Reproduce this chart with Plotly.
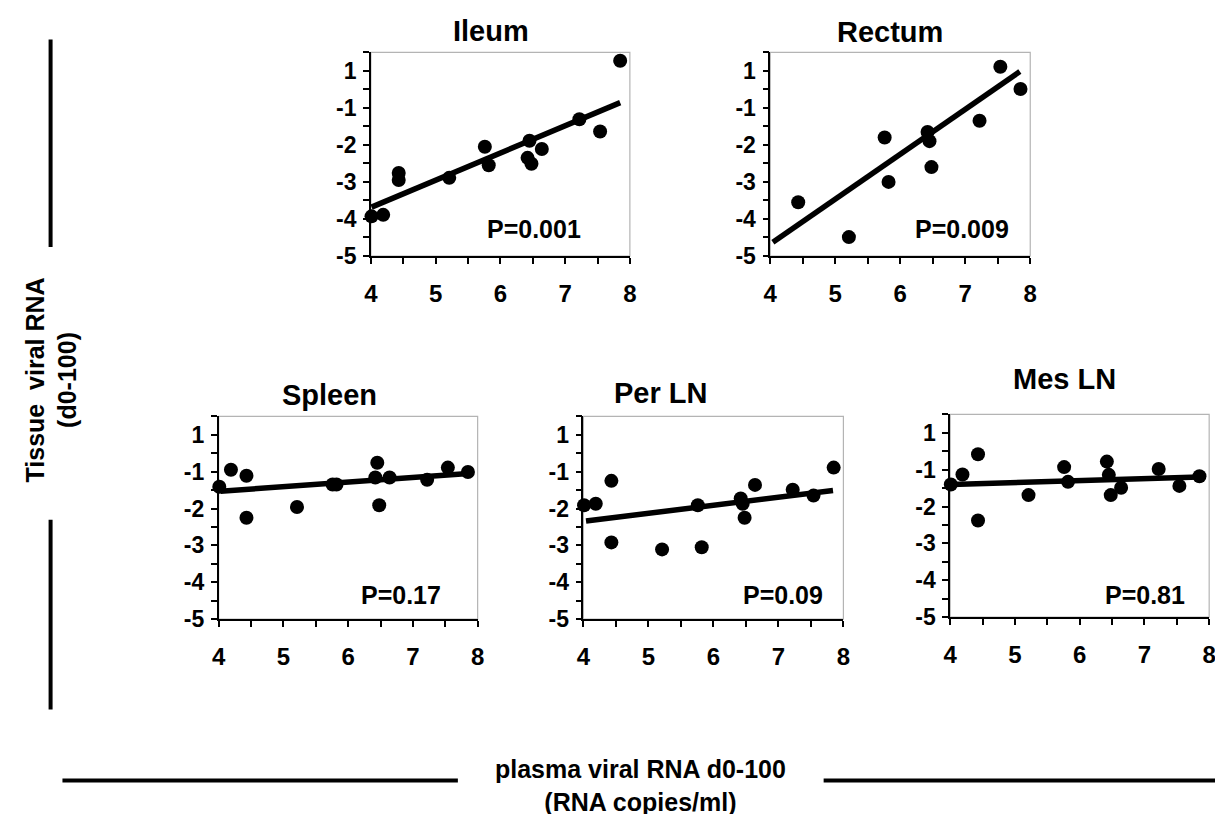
import plotly.graph_objects as go

W, H = 1223, 814

# ---------------- data ----------------
plasma = [4.01, 4.19, 4.43, 4.43, 5.21, 5.76, 5.82, 6.42, 6.45, 6.48, 6.64, 7.22, 7.54, 7.85]
ileum = [-3.93, -3.89, -2.76, -2.95, -2.89, -2.05, -2.55, -2.35, -1.89, -2.51, -2.11, -1.31, -1.64, 0.27]
rectum_x = [4.43, 5.21, 5.76, 5.82, 6.42, 6.45, 6.48, 7.22, 7.54, 7.85]
rectum = [-3.55, -4.49, -1.80, -3.00, -1.65, -1.90, -2.60, -1.35, 0.11, -0.49]
spleen = [-1.41, -0.95, -1.11, -2.25, -1.96, -1.35, -1.35, -1.16, -0.76, -1.91, -1.16, -1.22, -0.89, -1.01]
per_ln = [-1.91, -1.87, -1.25, -2.92, -3.11, -1.91, -3.05, -1.73, -1.87, -2.25, -1.36, -1.49, -1.65, -0.89]
mes_ln = [-1.40, -1.13, -0.58, -2.38, -1.69, -0.93, -1.33, -0.78, -1.14, -1.69, -1.49, -0.98, -1.44, -1.18]

# regression line end points
ileum_fit_x, ileum_fit_y = [4.01, 7.85], [-3.68, -0.86]
rectum_fit_x, rectum_fit_y = [4.04, 7.84], [-4.63, -0.02]
spleen_fit_x, spleen_fit_y = [4.03, 7.86], [-1.53, -1.05]
per_fit_x, per_fit_y = [4.04, 7.84], [-2.34, -1.51]
mes_fit_x, mes_fit_y = [4.02, 7.85], [-1.40, -1.20]

titles = ["Ileum", "Rectum", "Spleen", "Per LN", "Mes LN"]
pvalues = ["P=0.001", "P=0.009", "P=0.17", "P=0.09", "P=0.81"]

x_ticks = [4, 5, 6, 7, 8]
y_tickvals = [-5, -4, -3, -2, -1, 0]
y_ticktext = ["-5", "-4", "-3", "-2", "-1", "1"]

x_title = "plasma viral RNA d0-100<br>(RNA copies/ml)"
y_title = "Tissue  viral RNA<br>(d0-100)"

# ---------------- layout helpers ----------------
def px(x):
    return x / W

def py(y):
    return 1 - y / H

FONT = "Liberation Sans"

panels = [
    dict(x=plasma, y=ileum, fx=ileum_fit_x, fy=ileum_fit_y, box=(360, 622, 45, 252), tpos=(482, 23), ppos=(525, 225)),
    dict(x=rectum_x, y=rectum, fx=rectum_fit_x, fy=rectum_fit_y, box=(764, 1027, 45, 252), tpos=(885, 24), ppos=(958, 225)),
    dict(x=plasma, y=spleen, fx=spleen_fit_x, fy=spleen_fit_y, box=(206, 468, 415, 621), tpos=(318, 393), ppos=(390, 597)),
    dict(x=plasma, y=per_ln, fx=per_fit_x, fy=per_fit_y, box=(575, 838, 415, 621), tpos=(653, 391), ppos=(777, 597)),
    dict(x=plasma, y=mes_ln, fx=mes_fit_x, fy=mes_fit_y, box=(946, 1208, 413, 619), tpos=(1062, 377), ppos=(1143, 597)),
]

fig = go.Figure()
shapes = []
annotations = []

for i, p in enumerate(panels, start=1):
    xa = "x" if i == 1 else f"x{i}"
    ya = "y" if i == 1 else f"y{i}"
    l, r, t, b = p["box"]
    fig.add_trace(go.Scatter(
        x=p["fx"], y=p["fy"], mode="lines", xaxis=xa, yaxis=ya,
        line=dict(color="black", width=5.5), showlegend=False, hoverinfo="skip",
        cliponaxis=False,
    ))
    fig.add_trace(go.Scatter(
        x=p["x"], y=p["y"], mode="markers", xaxis=xa, yaxis=ya,
        marker=dict(color="black", size=14, line=dict(width=0)), showlegend=False,
        cliponaxis=False,
    ))
    xkey = "xaxis" if i == 1 else f"xaxis{i}"
    ykey = "yaxis" if i == 1 else f"yaxis{i}"
    fig.layout[xkey] = dict(
        domain=[px(l), px(r)], anchor=ya, range=[4, 8], tickvals=x_ticks,
        ticks="outside", ticklen=6, tickwidth=1.5, tickcolor="black",
        showline=True, linecolor="black", linewidth=1.5, showgrid=False, zeroline=False,
        tickfont=dict(family=FONT, size=24, color="black", weight="bold"),
        ticklabelstandoff=9,
        minor=dict(tick0=4, dtick=0.5, ticks="outside", ticklen=6, tickwidth=1.5, tickcolor="black", showgrid=False),
        fixedrange=True,
    )
    fig.layout[ykey] = dict(
        domain=[py(b), py(t)], anchor=xa, range=[-5, 0.5], tickvals=y_tickvals, ticktext=y_ticktext,
        ticks="outside", ticklen=6, tickwidth=1.5, tickcolor="black",
        showline=True, linecolor="black", linewidth=1.5, showgrid=False, zeroline=False,
        tickfont=dict(family=FONT, size=23, color="black", weight="bold"),
        ticklabelstandoff=2,
        minor=dict(tick0=0, dtick=0.5, ticks="outside", ticklen=6, tickwidth=1.5, tickcolor="black", showgrid=False),
        fixedrange=True,
    )
    shapes.append(dict(type="rect", xref=f"{xa} domain", yref=f"{ya} domain", x0=0, x1=1, y0=0, y1=1,
                       line=dict(color="#b4b4b4", width=1.2), layer="below"))
    annotations.append(dict(text=f"<b>{titles[i-1]}</b>", x=px(p["tpos"][0]), y=py(p["tpos"][1]),
                            xref="paper", yref="paper", showarrow=False, xanchor="center", yanchor="middle",
                            font=dict(family=FONT, size=29, color="black")))
    annotations.append(dict(text=f"<b>{pvalues[i-1]}</b>", x=px(p["ppos"][0]), y=py(p["ppos"][1]),
                            xref="paper", yref="paper", showarrow=False, xanchor="center", yanchor="middle",
                            font=dict(family=FONT, size=25, color="black")))

# decorative lines around the shared axis titles
for (x0, y0, x1, y1) in [(36, 32, 36, 243), (36, 520, 36, 713), (48, 785, 448, 785), (818, 785, 1219, 785)]:
    shapes.append(dict(type="line", xref="paper", yref="paper", x0=px(x0), y0=py(y0), x1=px(x1), y1=py(y1),
                       line=dict(color="black", width=4)))

annotations.append(dict(text=f"<b>{y_title}</b>", x=px(37), y=py(378), xref="paper", yref="paper",
                        showarrow=False, textangle=-90, xanchor="center", yanchor="middle",
                        font=dict(family=FONT, size=25, color="black")))
annotations.append(dict(text=f"<b>{x_title}</b>", x=px(633), y=py(790), xref="paper", yref="paper",
                        showarrow=False, xanchor="center", yanchor="middle",
                        font=dict(family=FONT, size=25, color="black")))

fig.update_layout(
    width=W, height=H, margin=dict(l=0, r=0, t=0, b=0),
    paper_bgcolor="white", plot_bgcolor="white",
    shapes=shapes, annotations=annotations, showlegend=False,
)

fig.write_html("out.html")
